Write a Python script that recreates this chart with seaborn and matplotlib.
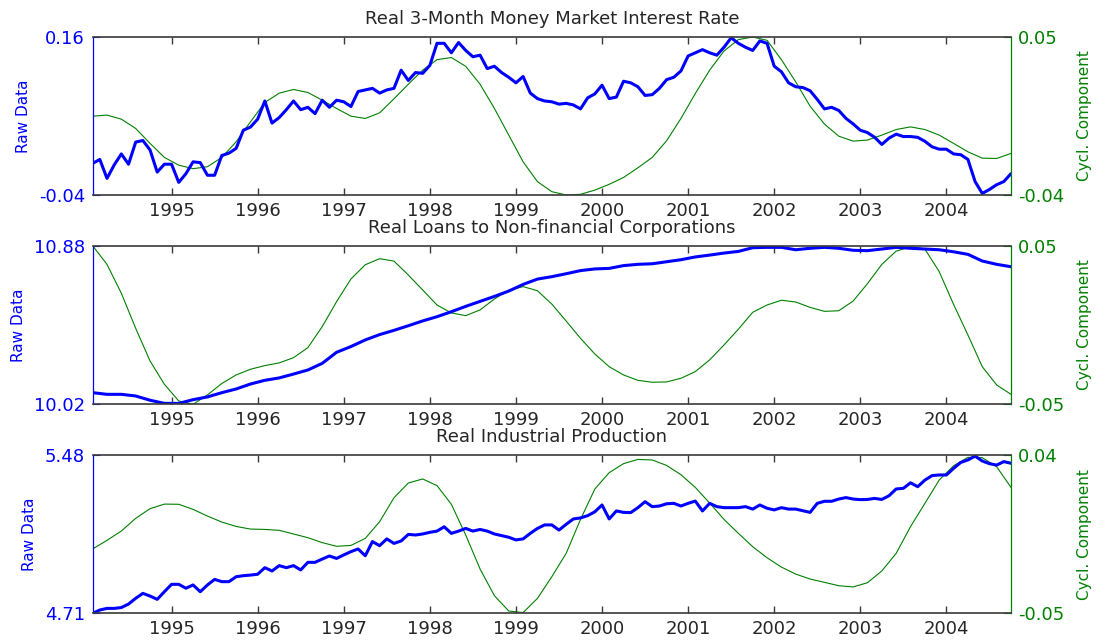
import numpy as np
import matplotlib
matplotlib.use('Agg')
import matplotlib.pyplot as plt
import seaborn as sns

# monthly observations, Feb 1994 - Oct 2004 (cyclical components read every 2nd month)
months = 1994 + np.arange(1, 130) / 12
months_2 = months[::2]
year_ticks = list(range(1995, 2005))

rate_raw = [
    0.000, 0.005, -0.019, -0.002, 0.012, -0.001, 0.027, 0.029, 0.017, -0.011, -0.001, -0.001,
    -0.024, -0.013, 0.002, 0.001, -0.015, -0.015, 0.010, 0.013, 0.019, 0.042, 0.046, 0.056,
    0.079, 0.051, 0.058, 0.068, 0.079, 0.068, 0.071, 0.063, 0.080, 0.071, 0.080, 0.078,
    0.072, 0.091, 0.093, 0.095, 0.089, 0.093, 0.095, 0.118, 0.105, 0.115, 0.114, 0.124,
    0.152, 0.152, 0.140, 0.153, 0.143, 0.135, 0.137, 0.120, 0.123, 0.115, 0.109, 0.102,
    0.110, 0.089, 0.082, 0.079, 0.078, 0.075, 0.076, 0.074, 0.069, 0.083, 0.088, 0.099,
    0.082, 0.084, 0.104, 0.102, 0.097, 0.086, 0.087, 0.095, 0.106, 0.109, 0.117, 0.136,
    0.140, 0.144, 0.140, 0.137, 0.147, 0.159, 0.152, 0.147, 0.143, 0.155, 0.152, 0.123,
    0.116, 0.102, 0.097, 0.096, 0.092, 0.081, 0.069, 0.071, 0.067, 0.057, 0.050, 0.042,
    0.039, 0.033, 0.024, 0.032, 0.037, 0.034, 0.034, 0.033, 0.028, 0.021, 0.018, 0.018,
    0.012, 0.011, 0.005, -0.023, -0.038, -0.033, -0.027, -0.023, -0.013,
]
rate_cycle = [
    0.0049, 0.0055, 0.0032, -0.0021, -0.0106, -0.0186, -0.0230, -0.0250, -0.0239, -0.0186,
    -0.0097, 0.0017, 0.0127, 0.0180, 0.0201, 0.0184, 0.0140, 0.0093, 0.0049, 0.0036, 0.0068,
    0.0148, 0.0231, 0.0311, 0.0371, 0.0383, 0.0333, 0.0231, 0.0093, -0.0059, -0.0211,
    -0.0324, -0.0381, -0.0400, -0.0396, -0.0372, -0.0339, -0.0300, -0.0245, -0.0186, -0.0091,
    0.0036, 0.0178, 0.0311, 0.0420, 0.0485, 0.0500, 0.0481,
    0.0371, 0.0244, 0.0106, 0.0004, -0.0065, -0.0093, -0.0087, -0.0059, -0.0027, -0.0012,
    -0.0027, -0.0059, -0.0106, -0.0154, -0.0190, -0.0192, -0.0163,
]

loans_raw = [
    10.083, 10.074, 10.074, 10.065, 10.042, 10.025, 10.025, 10.045, 10.060, 10.083, 10.103,
    10.130, 10.150, 10.163, 10.184, 10.206, 10.242, 10.302, 10.333, 10.369, 10.398, 10.421, 10.446,
    10.472, 10.495, 10.522, 10.551, 10.578, 10.605, 10.634, 10.670, 10.699, 10.712, 10.728,
    10.745, 10.754, 10.757, 10.772, 10.779, 10.782, 10.793, 10.804, 10.819, 10.829, 10.840, 10.849,
    10.869, 10.871, 10.871, 10.858, 10.866, 10.871, 10.866, 10.855, 10.853, 10.862, 10.871,
    10.866, 10.862, 10.858, 10.847, 10.833, 10.797, 10.779, 10.766,
]
loans_cycle = [
    0.0500, 0.0382, 0.0200, -0.0021, -0.0227, -0.0374, -0.0479, -0.0500, -0.0441, -0.0369,
    -0.0315, -0.0279, -0.0256, -0.0239, -0.0206, -0.0143, -0.0010, 0.0147, 0.0290, 0.0380,
    0.0418, 0.0403, 0.0315,
    0.0221, 0.0126, 0.0076, 0.0059, 0.0095, 0.0164, 0.0219, 0.0242, 0.0216, 0.0132, 0.0025,
    -0.0084, -0.0183, -0.0263, -0.0315, -0.0349, -0.0361, -0.0359, -0.0336, -0.0294, -0.0220,
    -0.0126, -0.0027,
    0.0080, 0.0126, 0.0156, 0.0145, 0.0111, 0.0086, 0.0090, 0.0151, 0.0261, 0.0382, 0.0466,
    0.0494, 0.0479, 0.0336, 0.0130, -0.0063, -0.0263, -0.0378, -0.0437,
]

ip_raw = [
    4.710, 4.726, 4.734, 4.734, 4.738, 4.755, 4.783, 4.807, 4.794, 4.778, 4.815, 4.851,
    4.851, 4.832, 4.848, 4.815, 4.848, 4.875, 4.864, 4.864, 4.888, 4.893, 4.896, 4.900,
    4.932, 4.916, 4.942, 4.932, 4.942, 4.921, 4.958, 4.958, 4.974, 4.989, 4.977, 4.994,
    5.010, 5.023, 4.990, 5.059, 5.039, 5.072, 5.050, 5.062, 5.094, 5.091, 5.096, 5.104,
    5.110, 5.131, 5.099, 5.110, 5.123, 5.110, 5.118, 5.110, 5.096, 5.088, 5.080, 5.067,
    5.072, 5.099, 5.123, 5.140, 5.140, 5.115, 5.143, 5.169, 5.174, 5.185, 5.204, 5.237,
    5.169, 5.208, 5.201, 5.200, 5.224, 5.253, 5.229, 5.232, 5.243, 5.245, 5.232, 5.245,
    5.256, 5.208, 5.245, 5.229, 5.224, 5.224, 5.224, 5.229, 5.217, 5.237, 5.221, 5.213,
    5.224, 5.217, 5.217, 5.209, 5.201, 5.245, 5.255, 5.255, 5.266, 5.273, 5.266, 5.263,
    5.264, 5.269, 5.264, 5.282, 5.315, 5.318, 5.345, 5.326, 5.358, 5.380, 5.383, 5.383,
    5.415, 5.444, 5.456, 5.475, 5.451, 5.438, 5.431, 5.448, 5.440,
]
ip_cycle = [
    -0.0134, -0.0085, -0.0032, 0.0040, 0.0095, 0.0121, 0.0120, 0.0091, 0.0053, 0.0019,
    -0.0006, -0.0021, -0.0023, -0.0028, -0.0049, -0.0070, -0.0098, -0.0119, -0.0114, -0.0074,
    0.0021, 0.0157, 0.0241,
    0.0264, 0.0226, 0.0120, -0.0055, -0.0248, -0.0400, -0.0487, -0.0496, -0.0415, -0.0292,
    -0.0159, 0.0034, 0.0207, 0.0300, 0.0351, 0.0375, 0.0372, 0.0341, 0.0288, 0.0216, 0.0127,
    0.0034, -0.0045,
    -0.0121, -0.0184, -0.0237, -0.0277, -0.0305, -0.0324, -0.0343, -0.0350, -0.0326, -0.0259,
    -0.0159, -0.0007, 0.0125, 0.0258, 0.0339, 0.0387, 0.0385, 0.0334, 0.0216,
]

titles = ['Real 3-Month Money Market Interest Rate',
          'Real Loans to Non-financial Corporations',
          'Real Industrial Production']
raw_series = [rate_raw, loans_raw, ip_raw]
raw_x = [months, months_2, months]
cycle_series = [rate_cycle, loans_cycle, ip_cycle]
raw_limits = [(-0.04, 0.16), (10.02, 10.88), (4.71, 5.48)]
cycle_limits = [(-0.04, 0.05), (-0.05, 0.05), (-0.05, 0.04)]

sns.set_style('white')
plt.rcParams['font.family'] = ['DejaVu Sans']
plt.rcParams['axes.unicode_minus'] = False

BLUE = '#0000ff'
GREEN = '#008000'
FRAME = '#3a3a3a'

fig = plt.figure(figsize=(10.99, 6.40), dpi=100)
rects = [[0.0843, 0.6953, 0.8356, 0.2469],
         [0.0843, 0.3683, 0.8356, 0.2478],
         [0.0843, 0.0417, 0.8356, 0.2473]]
raw_label_x = [-0.067, -0.073, -0.061]

for i in range(3):
    ax = fig.add_axes(rects[i])
    ax2 = ax.twinx()

    sns.lineplot(x=months_2, y=cycle_series[i], ax=ax2, color=GREEN, linewidth=0.8)
    sns.lineplot(x=raw_x[i], y=raw_series[i], ax=ax, color=BLUE, linewidth=2.2)
    ax.set_zorder(ax2.get_zorder() + 1)
    ax.patch.set_visible(False)

    ax.set_xlim(months[0], months[-1])
    ax.set_xticks(year_ticks)
    ax.set_xticklabels([str(y) for y in year_ticks])
    ax.tick_params(axis='x', direction='in', length=5, width=1, top=True, bottom=True,
                   color=FRAME, labelsize=13, pad=5)

    lo, hi = raw_limits[i]
    ax.set_ylim(lo, hi)
    ax.set_yticks([lo, hi])
    ax.set_yticklabels([f'{lo:g}', f'{hi:g}'])
    ax.tick_params(axis='y', direction='in', length=5, color=BLUE, labelcolor=BLUE,
                   labelsize=13, pad=5.5)

    clo, chi = cycle_limits[i]
    ax2.set_ylim(clo, chi)
    ax2.set_yticks([clo, chi])
    ax2.set_yticklabels([f'{clo:g}', f'{chi:g}'])
    ax2.tick_params(axis='y', direction='in', length=6, color=GREEN, labelcolor=GREEN,
                    labelsize=13, pad=5)

    ax.set_xlabel('')
    ax.set_ylabel('Raw Data', color=BLUE, fontsize=11)
    ax.yaxis.set_label_coords(raw_label_x[i], 0.5)
    ax2.set_ylabel('Cycl. Component', color=GREEN, fontsize=11)
    ax2.yaxis.set_label_coords(1.0716, 0.5)

    for side in ['top', 'bottom']:
        ax.spines[side].set_color(FRAME)
        ax.spines[side].set_linewidth(1.2)
    ax.spines['left'].set_color(BLUE)
    ax.spines['left'].set_linewidth(0.9)
    ax.spines['right'].set_visible(False)
    for side in ['top', 'bottom', 'left']:
        ax2.spines[side].set_visible(False)
    ax2.spines['right'].set_color(GREEN)
    ax2.spines['right'].set_linewidth(0.9)

    ax.set_title(titles[i], fontsize=13, pad=9.5)

fig.savefig('out.png', dpi=100)
plt.close(fig)
